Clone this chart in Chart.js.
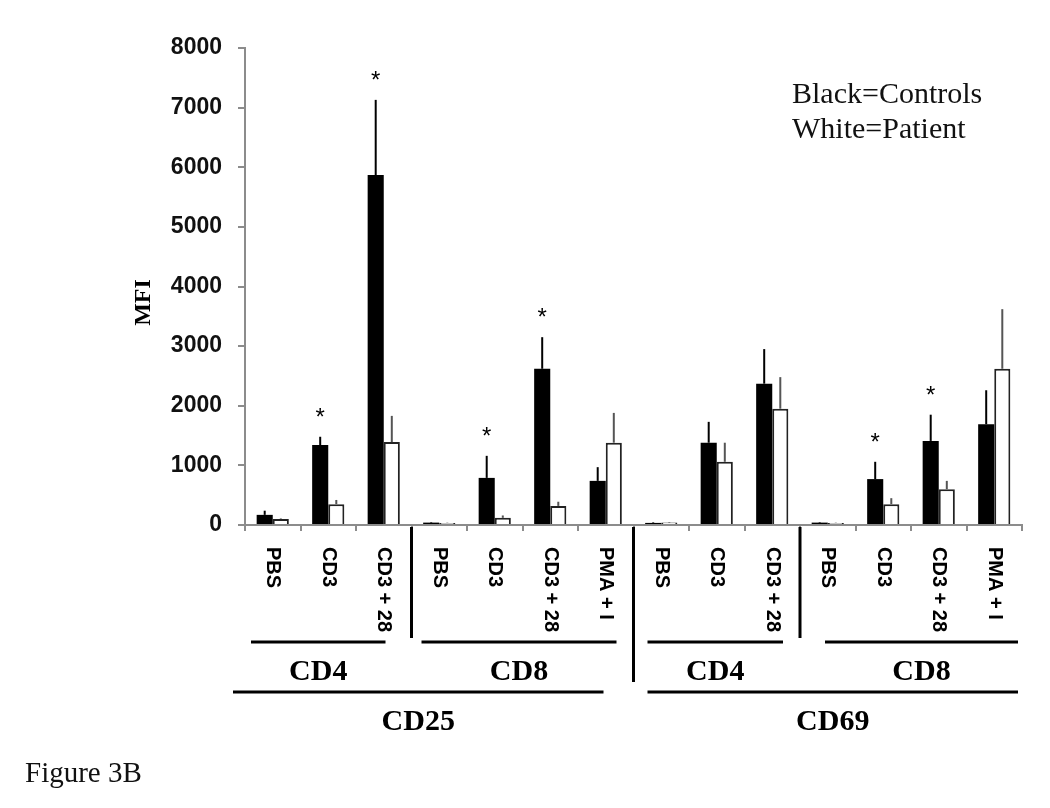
<!DOCTYPE html>
<html>
<head>
<meta charset="utf-8">
<title>Figure 3B</title>
<script src="https://cdn.jsdelivr.net/npm/chart.js@4.4.1/dist/chart.umd.min.js"></script>
<style>
  html, body { margin: 0; padding: 0; background: #fff; }
  #wrap { width: 1050px; height: 808px; }
</style>
</head>
<body>
<div id="wrap"><canvas id="mfiChart" width="1050" height="808"></canvas></div>
<script>
// categories along x
var categories = ['PBS', 'CD3', 'CD3 + 28', 'PBS', 'CD3', 'CD3 + 28', 'PMA + I',
                  'PBS', 'CD3', 'CD3 + 28', 'PBS', 'CD3', 'CD3 + 28', 'PMA + I'];
// Black = controls
var controls = [170, 1340, 5870, 40, 790, 2620, 740, 35, 1380, 2370, 40, 770, 1410, 1690];
var controlsErr = [70, 140, 1260, 10, 370, 530, 230, 10, 350, 580, 10, 290, 440, 570];
// White = patient
var patient = [100, 350, 1390, 35, 120, 320, 1380, 40, 1060, 1950, 35, 350, 600, 2620];
var patientErr = [10, 70, 440, 5, 40, 70, 500, 10, 320, 530, 5, 100, 140, 1000];
// asterisks over the control bar
var significant = [false, true, true, false, true, true, false, false, false, false, false, true, true, false];
var yTicks = [0, 1000, 2000, 3000, 4000, 5000, 6000, 7000, 8000];
// grouping under the axis
var cellGroups = [
    { label: 'CD4', from: 0, to: 2 },
    { label: 'CD8', from: 3, to: 6 },
    { label: 'CD4', from: 7, to: 9 },
    { label: 'CD8', from: 10, to: 13 }
];
var markers = [
    { label: 'CD25', from: 0, to: 6 },
    { label: 'CD69', from: 7, to: 13 }
];

var SANS = '"Liberation Sans", Arial, sans-serif';
var SERIF = '"Liberation Serif", "Times New Roman", serif';

//------------------------
//- ANNOTATION PLUGIN -
//------------------------
var annotations = {
    id: 'annotations',
    afterDraw: function (chart) {
        var ctx = chart.ctx;
        var xs = chart.scales.x;
        var ys = chart.scales.y;
        var area = chart.chartArea;
        var half = (xs.getPixelForValue(1) - xs.getPixelForValue(0)) / 2;

        ctx.save();

        // error bars (upper only)
        [[controls, controlsErr, '#000'], [patient, patientErr, '#555']].forEach(function (s, i) {
            var meta = chart.getDatasetMeta(i);
            meta.data.forEach(function (bar, j) {
                var top = ys.getPixelForValue(s[0][j] + s[1][j]);
                ctx.strokeStyle = s[2];
                ctx.lineWidth = 2;
                ctx.beginPath();
                ctx.moveTo(bar.x, bar.y);
                ctx.lineTo(bar.x, top);
                ctx.stroke();
            });
        });

        // asterisks
        var meta0 = chart.getDatasetMeta(0);
        ctx.fillStyle = '#000';
        ctx.font = '24px ' + SANS;
        ctx.textAlign = 'center';
        ctx.textBaseline = 'alphabetic';
        significant.forEach(function (sig, j) {
            if (!sig) return;
            var top = ys.getPixelForValue(controls[j] + controlsErr[j]);
            ctx.fillText('*', meta0.data[j].x, top - 12);
        });

        // rotated category labels
        ctx.font = 'bold 20px ' + SANS;
        ctx.textAlign = 'left';
        ctx.textBaseline = 'middle';
        categories.forEach(function (c, j) {
            ctx.save();
            ctx.translate(xs.getPixelForValue(j), area.bottom + 22);
            ctx.rotate(Math.PI / 2);
            ctx.fillText(c, 0, 0);
            ctx.restore();
        });

        // separators between groups
        ctx.strokeStyle = '#000';
        ctx.lineWidth = 3;
        cellGroups.forEach(function (g, k) {
            if (k === 0) return;
            var x = xs.getPixelForValue(g.from) - half;
            var newMarker = markers.some(function (m) { return m.from === g.from; });
            ctx.beginPath();
            ctx.moveTo(x, area.bottom + 2);
            ctx.lineTo(x, area.bottom + (newMarker ? 157 : 113));
            ctx.stroke();
        });

        // cell group lines and labels
        var cellInset = [[6, 26], [10, 17], [14, 17], [25, 4]];
        ctx.font = 'bold 30px ' + SERIF;
        ctx.textAlign = 'center';
        ctx.textBaseline = 'alphabetic';
        cellGroups.forEach(function (g, k) {
            var x0 = xs.getPixelForValue(g.from) - half + cellInset[k][0];
            var x1 = xs.getPixelForValue(g.to) + half - cellInset[k][1];
            ctx.beginPath();
            ctx.moveTo(x0, area.bottom + 117);
            ctx.lineTo(x1, area.bottom + 117);
            ctx.stroke();
            ctx.fillText(g.label, (x0 + x1) / 2, area.bottom + 155);
        });

        // marker lines and labels
        var markerInset = [[-12, 30], [14, 4]];
        markers.forEach(function (m, k) {
            var x0 = xs.getPixelForValue(m.from) - half + markerInset[k][0];
            var x1 = xs.getPixelForValue(m.to) + half - markerInset[k][1];
            ctx.beginPath();
            ctx.moveTo(x0, area.bottom + 167);
            ctx.lineTo(x1, area.bottom + 167);
            ctx.stroke();
            ctx.fillText(m.label, (x0 + x1) / 2, area.bottom + 205);
        });

        // y axis title
        ctx.save();
        ctx.translate(144, (area.top + area.bottom) / 2 + 16);
        ctx.rotate(-Math.PI / 2);
        ctx.font = 'bold 24px ' + SERIF;
        ctx.textBaseline = 'middle';
        ctx.fillText('MFI', 0, 0);
        ctx.restore();

        // key text
        ctx.font = '30px ' + SERIF;
        ctx.textAlign = 'left';
        ctx.fillStyle = '#111';
        ctx.fillText('Black=Controls', 792, 103);
        ctx.fillText('White=Patient', 792, 138);

        // caption
        ctx.font = '29px ' + SERIF;
        ctx.fillText('Figure 3B', 25, 782);

        ctx.restore();
    }
};

//-------------------
//- MFI BAR CHART -
//-------------------
var mfiChart = new Chart(document.getElementById('mfiChart'), {
    type: 'bar',
    data: {
        labels: categories,
        datasets: [
            {
                label: 'Controls',
                data: controls,
                backgroundColor: '#000',
                borderColor: '#000',
                borderWidth: 0,
                categoryPercentage: 0.58,
                barPercentage: 1.0
            },
            {
                label: 'Patient',
                data: patient,
                backgroundColor: '#fff',
                borderColor: '#222',
                borderWidth: 2,
                categoryPercentage: 0.58,
                barPercentage: 1.0
            }
        ]
    },
    options: {
        responsive: false,
        animation: false,
        layout: { padding: { top: 48, right: 28, bottom: 0, left: 0 } },
        plugins: {
            legend: { display: false },
            tooltip: { enabled: false }
        },
        scales: {
            x: {
                afterFit: function (scale) { scale.height = 283; },
                border: { color: '#8c8c8c', width: 2 },
                grid: { offset: true, drawOnChartArea: false, tickLength: 6, color: '#8c8c8c', lineWidth: 2 },
                ticks: { display: false }
            },
            y: {
                min: 0,
                max: 8000,
                afterBuildTicks: function (scale) {
                    scale.ticks = yTicks.map(function (v) { return { value: v }; });
                },
                afterFit: function (scale) { scale.width = 245; },
                border: { color: '#8c8c8c', width: 2 },
                grid: { drawOnChartArea: false, tickLength: 7, color: '#8c8c8c', lineWidth: 2 },
                ticks: {
                    color: '#111',
                    padding: 16,
                    font: { family: SANS, weight: 'bold', size: 23 },
                    callback: function (value) { return String(value); }
                }
            }
        }
    },
    plugins: [annotations]
});
</script>
</body>
</html>
